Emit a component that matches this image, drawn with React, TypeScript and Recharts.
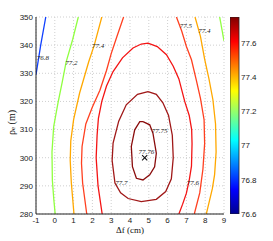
import { Bar, BarChart, CartesianGrid, ComposedChart, Line, Scatter, XAxis, YAxis } from "recharts";

type Pt = { x: number; y: number };

const p = (x: number, y: number): Pt => ({ x, y });

const X_TICKS = [-1, 0, 1, 2, 3, 4, 5, 6, 7, 8, 9];
const Y_TICKS = [280, 290, 300, 310, 320, 330, 340, 350];
const CBAR_TICKS = [76.6, 76.8, 77, 77.2, 77.4, 77.6];
const CBAR_RANGE = [76.6, 77.75];

// contour traces, in (Δf, ρe) units
const lvl76_8 = [p(-1, 329.5), p(-0.75, 340), p(-0.48, 350)];
const lvl77_2a = [
  p(1.25, 350), p(0.95, 342), p(0.6, 334), p(0.4, 327), p(0.17, 319.5), p(-0.06, 311),
  p(-0.15, 302), p(-0.13, 292), p(-0.05, 285), p(0.02, 280),
];
const lvl77_2b = [p(8.77, 350), p(9, 341.5)];
const lvl77_4a = [
  p(2.5, 350), p(2.1, 340), p(1.8, 334), p(1.32, 323), p(1.0, 313.5), p(0.85, 306),
  p(0.82, 299), p(0.88, 291), p(1.02, 280),
];
const lvl77_4b = [
  p(7.46, 350), p(7.75, 343), p(7.97, 335), p(8.2, 328), p(8.41, 320.6), p(8.55, 312),
  p(8.58, 302), p(8.5, 294), p(8.38, 289), p(8.06, 280),
];
const lvl77_5a = [
  p(3.66, 350), p(3.3, 343), p(3.0, 337), p(2.75, 331), p(2.4, 324), p(2.0, 318),
  p(1.65, 312), p(1.45, 304), p(1.42, 298), p(1.48, 291), p(1.7, 280),
];
const lvl77_5b = [
  p(6.47, 350), p(6.75, 345), p(7.0, 339.5), p(7.27, 334.8), p(7.53, 327.5), p(7.75, 321),
  p(7.94, 313.5), p(7.97, 305), p(7.88, 296), p(7.71, 287.5), p(7.42, 280),
];
const lvl77_6 = [
  p(2.52, 280), p(2.3, 290), p(2.2, 300), p(2.25, 308), p(2.32, 314), p(2.5, 320),
  p(2.75, 325.5), p(3.1, 330.6), p(3.6, 335.5), p(4.16, 339), p(4.6, 340.4), p(4.96, 340.7),
  p(5.45, 339.5), p(5.94, 336.6), p(6.3, 332.5), p(6.6, 328), p(6.91, 320), p(7.15, 315),
  p(7.28, 310), p(7.3, 305), p(7.27, 297), p(7.15, 292), p(7.0, 287.4), p(6.8, 283.5), p(6.6, 280),
];
const lvl77_7 = [
  p(4.96, 323.5), p(5.4, 322.5), p(5.75, 319.5), p(6.05, 315), p(6.25, 308), p(6.3, 300),
  p(6.2, 292.5), p(5.9, 288), p(5.4, 285.2), p(4.6, 284.4), p(3.9, 285.5), p(3.5, 287.5),
  p(3.2, 291), p(3.05, 299), p(3.1, 305.2), p(3.4, 313), p(3.8, 318.8), p(4.4, 322.5), p(4.96, 323.5),
];
const lvl77_75 = [
  p(4.69, 312.8), p(5.05, 311.7), p(5.22, 308.7), p(5.4, 301.6), p(5.31, 296.8), p(5.05, 293.9),
  p(4.69, 292.1), p(4.34, 292.7), p(4.13, 296.8), p(4.07, 304), p(4.25, 309.9), p(4.52, 312.8),
  p(4.69, 312.8),
];

const LABEL_X = [-0.63, 0.88, 2.3, 6.97, 7.95, 3.54, 7.35, 5.58, 4.87];
const LABEL_Y = [335.6, 333.6, 339.7, 346.9, 345.2, 291, 291, 309.6, 302.2];
const LABEL_TEXT = ["76.8", "77.2", "77.4", "77.5", "77.4", "77.7", "77.6", "77.75", "77.76"];

const PEAK = [p(4.78, 300)];

// jet colours of each level
const C_768 = "#1040ff";
const C_772 = "#90ff40";
const C_774 = "#ffa800";
const C_775 = "#ff4020";
const C_776 = "#f41414";
const C_777 = "#a01818";
const C_7775 = "#8a0c0c";

const contours: { key: string; color: string; pts: Pt[] }[] = [
  { key: "c768", color: C_768, pts: lvl76_8 },
  { key: "c772a", color: C_772, pts: lvl77_2a },
  { key: "c772b", color: C_772, pts: lvl77_2b },
  { key: "c774a", color: C_774, pts: lvl77_4a },
  { key: "c774b", color: C_774, pts: lvl77_4b },
  { key: "c775a", color: C_775, pts: lvl77_5a },
  { key: "c775b", color: C_775, pts: lvl77_5b },
  { key: "c776", color: C_776, pts: lvl77_6 },
  { key: "c777", color: C_777, pts: lvl77_7 },
  { key: "c7775", color: C_7775, pts: lvl77_75 },
];

const labels = LABEL_X.map((x, i) => ({ x, y: LABEL_Y[i], t: LABEL_TEXT[i] }));
const cbarData = [{ k: "cb", v: CBAR_RANGE }];

const TICK = { fontSize: 8, fill: "#222", fontFamily: "Liberation Sans, Arial, sans-serif" };
const SERIF = "Liberation Serif, Times New Roman, serif";

export default function App() {
  return (
    <div style={{ position: "absolute", left: 0, top: 0, width: 273, height: 241, background: "#fff" }}>
      <ComposedChart width={273} height={241} margin={{ top: 17, right: 49, bottom: 0, left: 0 }}>
        <CartesianGrid stroke="#cfcfcf" strokeDasharray="1 2" />
        <XAxis
          type="number"
          dataKey="x"
          domain={[-1, 9]}
          ticks={X_TICKS}
          allowDataOverflow
          height={27}
          tick={TICK}
          tickLine={false}
          tickSize={2}
          tickMargin={1}
          axisLine={{ stroke: "#222" }}
          label={{
            content: (props: any) => {
              const vb = props.viewBox;
              return (
                <text x={vb.x + vb.width / 2} y={vb.y + 19} textAnchor="middle" fontSize={9} fontFamily={SERIF} fill="#111">
                  Δf (cm)
                </text>
              );
            },
          }}
        />
        <YAxis
          type="number"
          dataKey="y"
          domain={[280, 350]}
          ticks={Y_TICKS}
          allowDataOverflow
          width={36}
          tick={TICK}
          tickLine={false}
          tickSize={2}
          tickMargin={1}
          axisLine={{ stroke: "#222" }}
          label={{
            content: (props: any) => {
              const vb = props.viewBox;
              const cx = vb.x + 11;
              const cy = vb.y + vb.height / 2 + 7;
              return (
                <text
                  x={cx}
                  y={cy}
                  transform={`rotate(-90, ${cx}, ${cy})`}
                  textAnchor="middle"
                  dominantBaseline="central"
                  fontSize={10}
                  fontFamily={SERIF}
                  fill="#111"
                >
                  ρ<tspan fontSize={7} dy={2}>e</tspan>
                  <tspan dy={-2}> (m)</tspan>
                </text>
              );
            },
          }}
        />
        {contours.map((c) => (
          <Line
            key={c.key}
            data={c.pts}
            dataKey="y"
            type="linear"
            stroke={c.color}
            strokeWidth={1.3}
            dot={false}
            activeDot={false}
            isAnimationActive={false}
          />
        ))}
        <Scatter
          data={labels}
          isAnimationActive={false}
          shape={(props: any) => (
            <text
              x={props.cx}
              y={props.cy}
              textAnchor="middle"
              dominantBaseline="central"
              fontSize={7}
              fontFamily={SERIF}
              fontStyle="italic"
              fill="#222"
            >
              {props.payload.t}
            </text>
          )}
        />
        <Scatter
          data={PEAK}
          isAnimationActive={false}
          shape={(props: any) => {
            const s = 2.6;
            return (
              <g stroke="#111" strokeWidth={1.1}>
                <line x1={props.cx - s} y1={props.cy - s} x2={props.cx + s} y2={props.cy + s} />
                <line x1={props.cx - s} y1={props.cy + s} x2={props.cx + s} y2={props.cy - s} />
              </g>
            );
          }}
        />
      </ComposedChart>
      <div style={{ position: "absolute", left: 230, top: 0 }}>
        <BarChart
          width={43}
          height={241}
          data={cbarData}
          margin={{ top: 17, right: 0, bottom: 27, left: 0 }}
          barCategoryGap={0}
        >
          <defs>
            <linearGradient id="jet" x1="0" y1="1" x2="0" y2="0">
              <stop offset="0" stopColor="#00008f" />
              <stop offset="0.125" stopColor="#0000ff" />
              <stop offset="0.375" stopColor="#00ffff" />
              <stop offset="0.625" stopColor="#ffff00" />
              <stop offset="0.875" stopColor="#ff0000" />
              <stop offset="1" stopColor="#800000" />
            </linearGradient>
          </defs>
          <XAxis dataKey="k" hide />
          <YAxis
            orientation="right"
            type="number"
            domain={CBAR_RANGE}
            ticks={CBAR_TICKS}
            allowDataOverflow
            width={34}
            tick={TICK}
            tickLine={false}
            tickSize={0}
            tickMargin={2}
            axisLine={false}
          />
          <Bar dataKey="v" fill="url(#jet)" stroke="#222" strokeWidth={0.8} isAnimationActive={false} />
        </BarChart>
      </div>
    </div>
  );
}
